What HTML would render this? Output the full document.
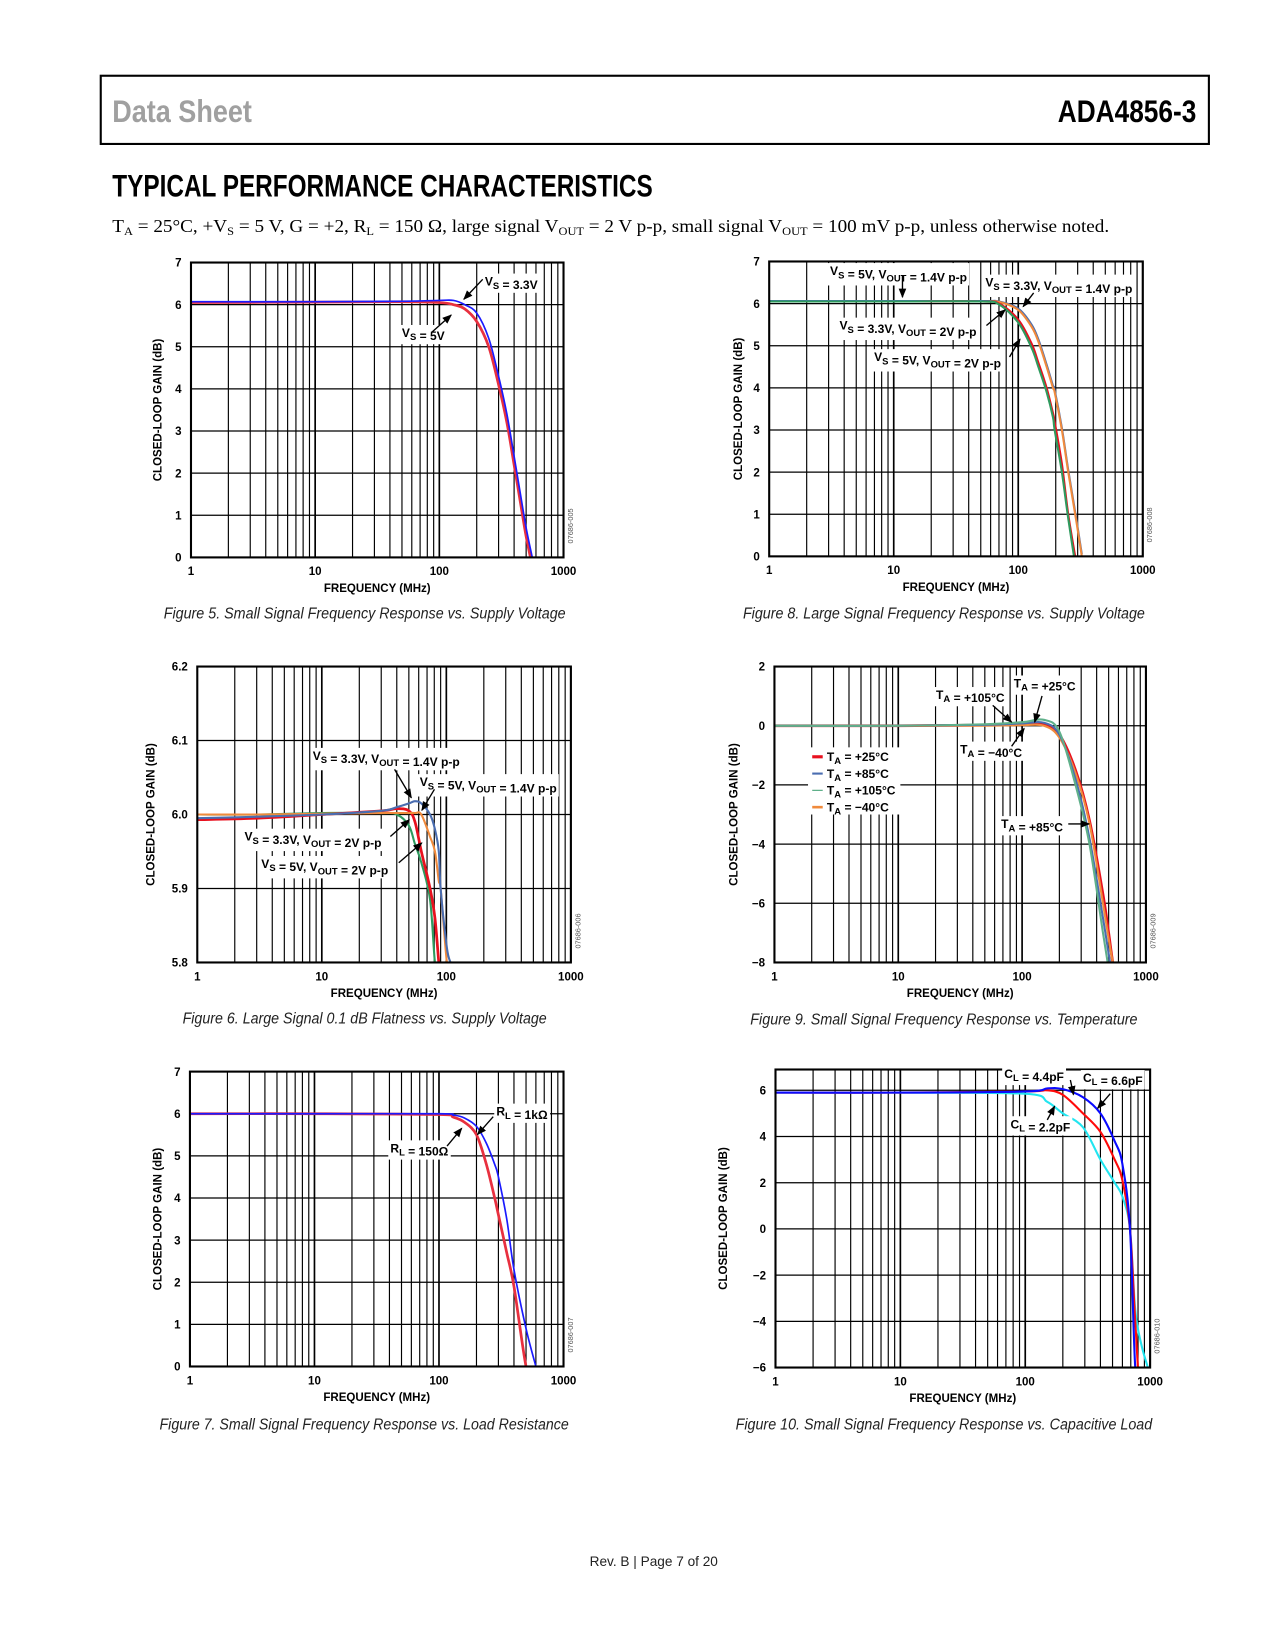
<!DOCTYPE html>
<html><head><meta charset="utf-8">
<style>
html,body{margin:0;padding:0;background:#fff;}
svg{display:block;}
.tk{font:bold 11px "Liberation Sans",Arial,sans-serif;fill:#000;}
.an{font:bold 11.5px "Liberation Sans",Arial,sans-serif;fill:#000;}
.cap{font:italic 15px "Liberation Sans",sans-serif;fill:#222;}
</style></head>
<body>
<svg id="page" width="1275" height="1650" viewBox="0 0 1215 1572" xmlns="http://www.w3.org/2000/svg">
<defs>
<marker id="ah" viewBox="0 0 10 10" refX="9" refY="5" markerWidth="7" markerHeight="7" orient="auto"><path d="M0,1 L10,5 L0,9 z" fill="#000"/></marker>
</defs>
<g>
<rect x="96" y="72" width="1056" height="65" fill="none" stroke="#000" stroke-width="2"/>
<text x="107" y="116" textLength="133" lengthAdjust="spacingAndGlyphs" style="font:bold 30px 'Liberation Sans',sans-serif;fill:#a0a0a0">Data Sheet</text>
<text x="1008" y="116" textLength="132" lengthAdjust="spacingAndGlyphs" style="font:bold 30px 'Liberation Sans',sans-serif;fill:#000">ADA4856-3</text>
</g>
<text x="107" y="187" textLength="515" lengthAdjust="spacingAndGlyphs" style="font:bold 30px 'Liberation Sans',sans-serif;fill:#000">TYPICAL PERFORMANCE CHARACTERISTICS</text>
<text x="107" y="221" textLength="950" lengthAdjust="spacingAndGlyphs" style="font:17px 'Liberation Serif',serif;fill:#000">T<tspan font-size="11" dy="3">A</tspan><tspan dy="-3"> = 25°C, +V</tspan><tspan font-size="11" dy="3">S</tspan><tspan dy="-3"> = 5 V, G = +2, R</tspan><tspan font-size="11" dy="3">L</tspan><tspan dy="-3"> = 150 Ω, large signal V</tspan><tspan font-size="11" dy="3">OUT</tspan><tspan dy="-3"> = 2 V p-p, small signal V</tspan><tspan font-size="11" dy="3">OUT</tspan><tspan dy="-3"> = 100 mV p-p, unless otherwise noted.</tspan></text>

<g id="charts"></g>

<g id="annots"></g>

<text x="156" y="589" textLength="383" lengthAdjust="spacingAndGlyphs" class="cap">Figure 5. Small Signal Frequency Response vs. Supply Voltage</text>
<text x="708" y="589" textLength="383" lengthAdjust="spacingAndGlyphs" class="cap">Figure 8. Large Signal Frequency Response vs. Supply Voltage</text>
<text x="174" y="975" textLength="347" lengthAdjust="spacingAndGlyphs" class="cap">Figure 6. Large Signal 0.1 dB Flatness vs. Supply Voltage</text>
<text x="715" y="976" textLength="369" lengthAdjust="spacingAndGlyphs" class="cap">Figure 9. Small Signal Frequency Response vs. Temperature</text>
<text x="152" y="1362" textLength="390" lengthAdjust="spacingAndGlyphs" class="cap">Figure 7. Small Signal Frequency Response vs. Load Resistance</text>
<text x="701" y="1362" textLength="397" lengthAdjust="spacingAndGlyphs" class="cap">Figure 10. Small Signal Frequency Response vs. Capacitive Load</text>
<text x="623" y="1492" text-anchor="middle" style="font:13px 'Liberation Sans',sans-serif;fill:#222">Rev. B | Page 7 of 20</text>
</svg>
<script>
// ---- Figure 5 data ----
const f5Freq = [1, 10, 50, 100, 130, 160, 200, 250, 300, 350, 400, 450, 500, 560];
const f5Vs33 = [6.07, 6.07, 6.08, 6.1, 6.1, 6.0, 5.8, 5.2, 4.3, 3.4, 2.4, 1.5, 0.7, 0];
const f5Vs5  = [6.05, 6.06, 6.07, 6.05, 6.0, 5.9, 5.6, 5.0, 4.1, 3.2, 2.2, 1.3, 0.5, -0.2];
// ---- Figure 8 data ----
const f8Freq = [1, 10, 50, 70, 100, 128, 145, 169, 190, 196, 224, 252, 294, 324];
const f8Vs5_14  = [6.05, 6.05, 6.05, 6.04, 5.85, 5.45, 5.1, 4.5, 4.0, 3.9, 3.0, 2.0, 0.8, 0];
const f8Vs33_14 = [6.06, 6.06, 6.06, 6.05, 5.88, 5.5, 5.15, 4.55, 4.05, 3.95, 3.05, 2.05, 0.85, 0.05];
const f8Vs33_2  = [6.05, 6.05, 6.05, 6.0, 5.62, 5.05, 4.6, 4.0, 3.4, 3.2, 2.2, 1.0, -0.2, -1];
const f8Vs5_2   = [6.05, 6.05, 6.05, 5.98, 5.55, 4.95, 4.5, 3.9, 3.3, 3.0, 2.0, 0.9, -0.4, -1.2];
// ---- Figure 6 data ----
const f6Freq = [1, 3, 10, 30, 40, 50, 56, 63, 74, 81, 87, 90, 101, 108];
const f6Vs33_14 = [5.995, 5.997, 6.0, 6.005, 6.01, 6.015, 6.018, 6.015, 6.0, 5.98, 5.95, 5.9, 5.82, 5.8];
const f6Vs5_14  = [6.0, 6.0, 6.001, 6.002, 6.002, 6.002, 6.002, 6.0, 5.97, 5.95, 5.91, 5.9, 5.8, 5.78];
const f6Vs33_2  = [5.993, 5.995, 6.0, 6.005, 6.008, 6.005, 5.99, 5.95, 5.9, 5.86, 5.8, 5.78, 5.76, 5.75];
const f6Vs5_2   = [6.0, 6.0, 6.002, 6.002, 6.0, 5.985, 5.96, 5.935, 5.885, 5.8, 5.78, 5.77, 5.76, 5.75];
// ---- Figure 9 data ----
const f9Freq = [1, 10, 50, 100, 150, 200, 270, 350, 450, 500, 540, 600];
const f9T25  = [0, 0, 0.02, 0.05, 0.05, -0.3, -1.5, -3.2, -5.7, -7.0, -8.0, -9];
const f9T85  = [0, 0, 0.03, 0.08, 0.1, -0.3, -1.8, -3.8, -6.5, -7.7, -8.6, -9.5];
const f9T105 = [0, 0, 0.05, 0.12, 0.2, -0.2, -2.0, -4.0, -7.0, -8.2, -9, -10];
const f9Tm40 = [0, 0, 0.0, 0.02, 0.0, -0.4, -1.6, -3.3, -6.0, -7.2, -8.0, -9];
// ---- Figure 7 data ----
const f7Freq = [1, 10, 100, 130, 160, 200, 240, 280, 300, 350, 400, 500, 600];
const f7R1k  = [6.0, 6.0, 6.0, 5.97, 5.9, 5.7, 5.3, 4.8, 4.5, 3.5, 2.3, 0.9, 0];
const f7R150 = [6.0, 6.0, 5.98, 5.92, 5.8, 5.5, 4.8, 4.0, 3.6, 2.7, 1.9, 0, -0.8];
// ---- Figure 10 data ----
const f10Freq = [1, 10, 100, 150, 200, 290, 400, 520, 600, 690, 760, 850, 960];
const f10C66 = [5.9, 5.9, 5.95, 6.08, 6.05, 5.7, 5.0, 3.8, 2.8, 0, -6, -8, -9];
const f10C44 = [5.9, 5.9, 5.95, 6.0, 5.8, 5.0, 4.2, 3.0, 2.1, 0, -4, -8, -9];
const f10C22 = [5.9, 5.9, 5.85, 5.5, 5.0, 4.4, 3.0, 2.0, 1.4, 0, -3.5, -5, -6];

const yTicks5 = [0, 1, 2, 3, 4, 5, 6, 7];
const yTicks6 = [5.8, 5.9, 6.0, 6.1, 6.2];
const yTicks9 = [-8, -6, -4, -2, 0, 2];
const yTicks10 = [-6, -4, -2, 0, 2, 4, 6];
const xTickLabels = ["1", "10", "100", "1000"];

const NS = "http://www.w3.org/2000/svg";
function mk(tag, attrs, parent) {
  const e = document.createElementNS(NS, tag);
  for (const k in attrs) e.setAttribute(k, attrs[k]);
  if (parent) parent.appendChild(e);
  return e;
}
function yLabel(v, dec) { return v.toFixed(dec).replace('-', '\u2212'); }

const chartsG = document.getElementById('charts');
let clipN = 0;
function drawChart(cfg) {
  const g = mk('g', {}, chartsG);
  
  
  const L = cfg.x0, R = cfg.x1, T = cfg.y0, B = cfg.y1;
  const sx = f => L + (Math.log10(f) / 3) * (R - L);
  const sy = v => B - (v - cfg.ymin) / (cfg.ymax - cfg.ymin) * (B - T);
  const grid = mk('g', {stroke: '#000', 'stroke-width': 1.2}, g);
  
  
  for (let d = 0; d < 3; d++) for (let m = 2; m <= 10; m++) {
    const x = sx(m * Math.pow(10, d));
    mk('line', {x1: x, x2: x, y1: T, y2: B, 'stroke-width': m === 10 ? 1.6 : 1.1}, grid);
  }
  cfg.yTicks.forEach(v => {
    const y = sy(v);
    mk('line', {x1: L, x2: R, y1: y, y2: y}, grid);
    const t = mk('text', {x: L - 9, y: y + 4, 'text-anchor': 'end', class: 'tk'}, g);
    
    
    t.textContent = yLabel(v, cfg.dec || 0);
  });
  xTickLabels.forEach((s, i) => {
    const t = mk('text', {x: sx(Math.pow(10, i)), y: B + 17, 'text-anchor': 'middle', class: 'tk'}, g);
    
    
    t.textContent = s;
  });
  const cid = 'clip' + (clipN++);
  const cp = mk('clipPath', {id: cid}, g);
  mk('rect', {x: L, y: T, width: R - L, height: B - T}, cp);
  const sg = mk('g', {'clip-path': 'url(#' + cid + ')'}, g);
  cfg.series.forEach(s => {
    const pts = s.freq.map((f, i) => [sx(f), sy(s.vals[i])]);
    let d = 'M' + pts[0][0] + ',' + pts[0][1];
    for (let i = 0; i < pts.length - 1; i++) {
      const p0 = pts[Math.max(0, i - 1)], p1 = pts[i], p2 = pts[i + 1], p3 = pts[Math.min(pts.length - 1, i + 2)];
      const c1x = p1[0] + (p2[0] - p0[0]) / 6, c1y = p1[1] + (p2[1] - p0[1]) / 6;
      const c2x = p2[0] - (p3[0] - p1[0]) / 6, c2y = p2[1] - (p3[1] - p1[1]) / 6;
      d += ' C' + c1x + ',' + c1y + ' ' + c2x + ',' + c2y + ' ' + p2[0] + ',' + p2[1];
    }
    const p = mk('path', {d: d, fill: 'none', stroke: s.color, 'stroke-width': s.w || 2, 'stroke-linejoin': 'round'}, sg);
    
    
  });
  const box = mk('rect', {x: L, y: T, width: R - L, height: B - T, fill: 'none', stroke: '#000', 'stroke-width': 2}, g);
  
  
  const xt = mk('text', {x: (L + R) / 2, y: B + 33, 'text-anchor': 'middle', class: 'tk'}, g);
  
  
  xt.textContent = 'FREQUENCY (MHz)';
  const ax = cfg.ytx, ay = (T + B) / 2;
  const yt = mk('text', {x: ax, y: ay, 'text-anchor': 'middle', class: 'tk', transform: 'rotate(-90 ' + ax + ' ' + ay + ')'}, g);
  
  
  yt.textContent = 'CLOSED-LOOP GAIN (dB)';
  const ix = R + 9, iy = B - 30;
  const id = mk('text', {x: ix, y: iy, 'text-anchor': 'middle', transform: 'rotate(-90 ' + ix + ' ' + iy + ')', style: 'font:7px "Liberation Sans",sans-serif;fill:#555'}, g);
  
  
  id.textContent = cfg.fid;
}

drawChart({name: 'figure-5-chart', x0: 182, x1: 537, y0: 250, y1: 531, ymin: 0, ymax: 7, yTicks: yTicks5, ytx: 154, fid: '07686-005',
  series: [{name: 'series-vs-5v', freq: f5Freq, vals: f5Vs5, color: '#e8303f', w: 2.6}, {name: 'series-vs-3p3v', freq: f5Freq, vals: f5Vs33, color: '#1a1aff', w: 1.6}]});
drawChart({name: 'figure-8-chart', x0: 733, x1: 1089, y0: 249, y1: 530, ymin: 0, ymax: 7, yTicks: yTicks5, ytx: 707, fid: '07686-008',
  series: [{name: 'series-3p3v-1p4v', freq: f8Freq, vals: f8Vs33_14, color: '#4a6db0'}, {name: 'series-5v-1p4v', freq: f8Freq, vals: f8Vs5_14, color: '#f08a3c'},
           {name: 'series-3p3v-2v', freq: f8Freq, vals: f8Vs33_2, color: '#e8101e'}, {name: 'series-5v-2v', freq: f8Freq, vals: f8Vs5_2, color: '#2e9a5e'}]});
drawChart({name: 'figure-6-chart', x0: 188, x1: 544, y0: 635, y1: 917, ymin: 5.8, ymax: 6.2, yTicks: yTicks6, dec: 1, ytx: 147, fid: '07686-006',
  series: [{name: 'series-5v-2v', freq: f6Freq, vals: f6Vs5_2, color: '#2e9a5e'}, {name: 'series-3p3v-2v', freq: f6Freq, vals: f6Vs33_2, color: '#e8101e', w: 2.6},
           {name: 'series-5v-1p4v', freq: f6Freq, vals: f6Vs5_14, color: '#f08a3c'}, {name: 'series-3p3v-1p4v', freq: f6Freq, vals: f6Vs33_14, color: '#4a6db0'}]});
drawChart({name: 'figure-9-chart', x0: 738, x1: 1092, y0: 635, y1: 917, ymin: -8, ymax: 2, yTicks: yTicks9, ytx: 703, fid: '07686-009',
  series: [{name: 'series-ta-25c', freq: f9Freq, vals: f9T25, color: '#e8101e', w: 2.6}, {name: 'series-ta-minus40c', freq: f9Freq, vals: f9Tm40, color: '#f08a3c'},
           {name: 'series-ta-85c', freq: f9Freq, vals: f9T85, color: '#4a6db0'}, {name: 'series-ta-105c', freq: f9Freq, vals: f9T105, color: '#5fb08a'}]});
drawChart({name: 'figure-7-chart', x0: 181, x1: 537, y0: 1021, y1: 1302, ymin: 0, ymax: 7, yTicks: yTicks5, ytx: 154, fid: '07686-007',
  series: [{name: 'series-rl-150', freq: f7Freq, vals: f7R150, color: '#e8303f', w: 2.6}, {name: 'series-rl-1k', freq: f7Freq, vals: f7R1k, color: '#1a1aff', w: 1.6}]});
drawChart({name: 'figure-10-chart', x0: 739, x1: 1096, y0: 1019, y1: 1303, ymin: -6, ymax: 6.9, yTicks: yTicks10, ytx: 693, fid: '07686-010',
  series: [{name: 'series-cl-2p2pf', freq: f10Freq, vals: f10C22, color: '#22e5f0'}, {name: 'series-cl-4p4pf', freq: f10Freq, vals: f10C44, color: '#ff0a0a'},
           {name: 'series-cl-6p6pf', freq: f10Freq, vals: f10C66, color: '#0a0aff'}]});

// ---- annotations ----
const ann = document.getElementById('annots');
function label(x, y, parts, name) {
  const t = mk('text', {x: x, y: y, class: 'an'}, ann);
  
  
  parts.forEach(p => {
    const ts = mk('tspan', p[1] ? {'font-size': 9, dy: 3} : {dy: 0}, t);
    ts.textContent = p[0];
    if (p[1]) { const r = mk('tspan', {dy: -3}, t); r.textContent = ''; }
  });
  const bb = t.getBBox();
  const bg = mk('rect', {x: bb.x - 2, y: bb.y - 1, width: bb.width + 4, height: bb.height + 2, fill: '#fff'});
  ann.insertBefore(bg, t);
}
function arrow(x1, y1, x2, y2) {
  const l = mk('line', {x1: x1, y1: y1, x2: x2, y2: y2, stroke: '#000', 'stroke-width': 1.3, 'marker-end': 'url(#ah)'}, ann);
  
  
}
const V = (s, o) => [['V'], ['S', 1], [' = ' + s + (o ? ', V' : '')]].concat(o ? [['OUT', 1], [' = ' + o]] : []);
// Fig 5
label(462, 272, V('3.3V'), 'label-vs-3p3v'); arrow(460, 266, 442, 285);
label(383, 321, V('5V'), 'label-vs-5v'); arrow(412, 316, 430, 300);
// Fig 8
label(791, 262, V('5V', '1.4V p-p'), 'label-5v-1p4v'); arrow(860, 262, 860, 283);
label(939, 273, V('3.3V', '1.4V p-p'), 'label-3p3v-1p4v'); arrow(985, 279, 975, 292);
label(800, 314, V('3.3V', '2V p-p'), 'label-3p3v-2v'); arrow(940, 310, 958, 295);
label(833, 344, V('5V', '2V p-p'), 'label-5v-2v'); arrow(962, 340, 972, 323);
// Fig 6
label(298, 724, V('3.3V', '1.4V p-p'), 'label-3p3v-1p4v'); arrow(376, 733, 392, 760);
label(400, 749, V('5V', '1.4V p-p'), 'label-5v-1p4v'); arrow(414, 752, 402, 772);
label(233, 801, V('3.3V', '2V p-p'), 'label-3p3v-2v'); arrow(372, 797, 390, 781);
label(249, 827, V('5V', '2V p-p'), 'label-5v-2v'); arrow(380, 822, 402, 803);
// Fig 9
const TA = s => [['T'], ['A', 1], [' = ' + s]];
label(892, 666, TA('+105°C'), 'label-ta-105c'); arrow(946, 672, 964, 688);
label(966, 655, TA('+25°C'), 'label-ta-25c'); arrow(993, 663, 986, 688);
label(915, 718, TA('\u221240°C'), 'label-ta-minus40c'); arrow(964, 711, 976, 694);
label(954, 789, TA('+85°C'), 'label-ta-85c'); arrow(1018, 785, 1038, 785);
// Fig 9 legend
const leg = [['#e8101e', '+25°C', 3], ['#4a6db0', '+85°C', 2], ['#5fb08a', '+105°C', 1.2], ['#f08a3c', '\u221240°C', 2.5]];
const lbg = mk('rect', {x: 770, y: 712, width: 88, height: 64, fill: '#fff'}, ann);
leg.forEach((e, i) => {
  const y = 721 + i * 16;
  const ln = mk('line', {x1: 774, x2: 784, y1: y, y2: y, stroke: e[0], 'stroke-width': e[2]}, ann);
  
  
  const t = mk('text', {x: 788, y: y + 4, class: 'an'}, ann);
  
  
  const a = mk('tspan', {}, t); a.textContent = 'T';
  const b = mk('tspan', {'font-size': 9, dy: 3}, t); b.textContent = 'A';
  const c = mk('tspan', {dy: -3}, t); c.textContent = ' = ' + e[1];
});
// Fig 7
const RL = s => [['R'], ['L', 1], [' = ' + s]];
label(473, 1063, RL('1kΩ'), 'label-rl-1k'); arrow(470, 1064, 455, 1081);
label(372, 1098, RL('150Ω'), 'label-rl-150'); arrow(426, 1092, 440, 1075);
// Fig 10
const CL = s => [['C'], ['L', 1], [' = ' + s]];
label(957, 1027, CL('4.4pF'), 'label-cl-4p4pf'); arrow(1020, 1029, 1023, 1043);
label(1032, 1031, CL('6.6pF'), 'label-cl-6p6pf'); arrow(1058, 1042, 1046, 1056);
label(963, 1075, CL('2.2pF'), 'label-cl-2p2pf'); arrow(998, 1067, 1005, 1054);
</script>
</body></html>
